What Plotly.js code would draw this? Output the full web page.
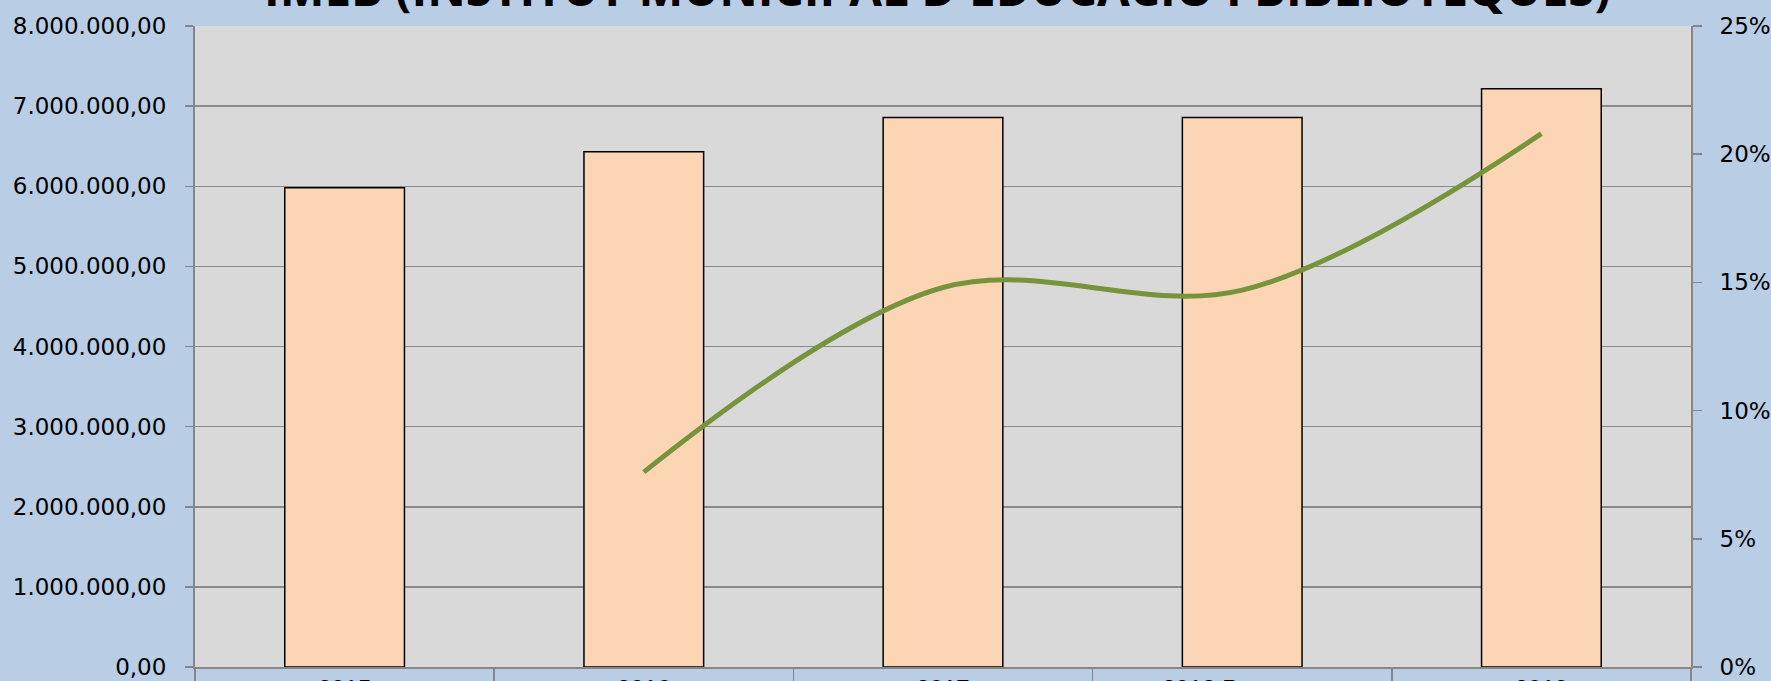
<!DOCTYPE html>
<html>
<head>
<meta charset="utf-8">
<script src="https://cdn.plot.ly/plotly-3.0.1.min.js"></script>
<style>html,body{margin:0;padding:0;background:#B9CDE5;}#chart{width:1771px;height:681px;}</style>
</head>
<body>
<div id="chart"></div>
<script>
const categories = ["2015", "2016", "2017", "2018 Prorrogat", "2019"];
const budget = [5980000, 6430000, 6858000, 6858000, 7216000];
const growthCategories = ["2016", "2017", "2018 Prorrogat", "2019"];
const growthPct = [7.6, 14.8, 14.7, 20.8];
const titleText = "IMEB (INSTITUT MUNICIPAL D'EDUCACIÓ I BIBLIOTEQUES)";

const traces = [
  {
    type: "bar",
    x: categories,
    y: budget,
    marker: {color: "#FCD5B5", line: {color: "#000000", width: 1.5}},
    width: 0.4,
    hoverinfo: "x+y"
  },
  {
    type: "scatter",
    mode: "lines",
    x: growthCategories,
    y: growthPct,
    yaxis: "y2",
    line: {color: "#77933C", width: 5, shape: "spline", smoothing: 1},
    hoverinfo: "x+y"
  }
];

const layout = {
  width: 1771,
  height: 681,
  paper_bgcolor: "#B9CDE5",
  plot_bgcolor: "#D9D9D9",
  separators: ",.",
  showlegend: false,
  margin: {l: 195, r: 80, t: 26, b: 14, pad: 0},
  annotations: [{
    text: "<b>" + titleText + "</b>",
    font: {family: "Open Sans", size: 47.5, color: "#000000"},
    xref: "paper", x: 0.496, xanchor: "center",
    yref: "paper", y: 1.0595, yanchor: "middle",
    showarrow: false
  }],
  xaxis: {
    type: "category",
    categoryorder: "array",
    categoryarray: categories,
    showline: true, linecolor: "#868686", linewidth: 2,
    ticks: "outside", tickson: "boundaries", ticklen: 14, tickcolor: "#868686", tickwidth: 1.5,
    ticklabelstandoff: -1,
    tickfont: {family: "Liberation Sans", size: 24, color: "#000000"},
    showgrid: false,
    zeroline: false
  },
  yaxis: {
    range: [0, 8000000],
    dtick: 1000000,
    tickformat: ",.2f",
    showline: true, linecolor: "#868686", linewidth: 2,
    ticks: "outside", ticklen: 8, tickcolor: "#868686", tickwidth: 1.5,
    ticklabelstandoff: 14,
    showgrid: true, gridcolor: "#8A8A8A", gridwidth: 1.5,
    zeroline: false,
    tickfont: {family: "DejaVu Sans", size: 23, color: "#000000"}
  },
  yaxis2: {
    overlaying: "y",
    side: "right",
    range: [0, 25],
    dtick: 5,
    ticksuffix: "%",
    showline: true, linecolor: "#868686", linewidth: 2,
    ticks: "outside", ticklen: 9, tickcolor: "#868686", tickwidth: 1.5,
    ticklabelstandoff: 13,
    showgrid: false,
    zeroline: false,
    tickfont: {family: "DejaVu Sans", size: 23, color: "#000000"}
  }
};

Plotly.newPlot("chart", traces, layout, {displayModeBar: false, staticPlot: true});
</script>
</body>
</html>
